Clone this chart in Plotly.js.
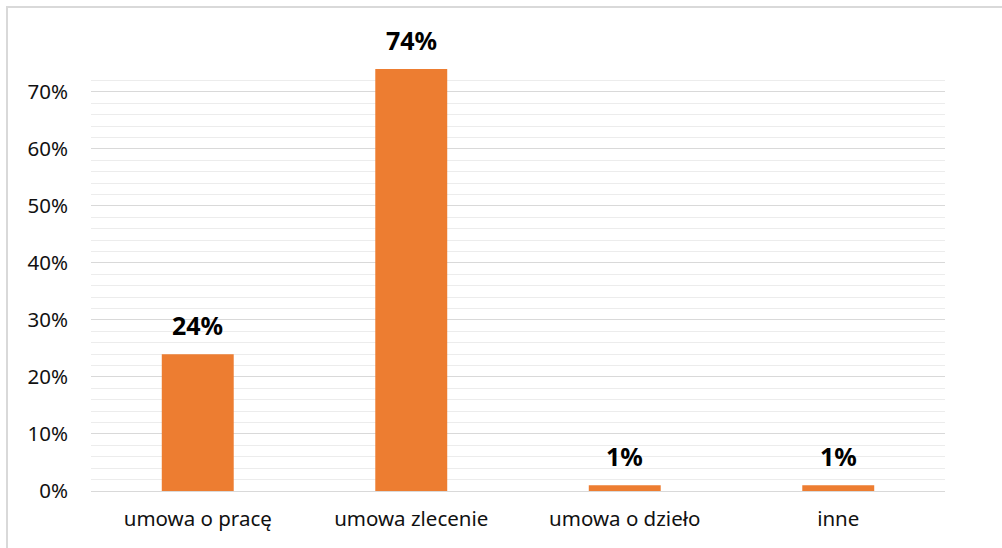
<!DOCTYPE html>
<html>
<head>
<meta charset="utf-8">
<script src="https://cdn.plot.ly/plotly-3.0.1.min.js"></script>
<style>
  html, body { margin: 0; padding: 0; background: #fff; }
  #frame { position: absolute; left: 6px; top: 6px; width: 996px; height: 542px;
           border-left: 2px solid #d9d9d9; border-top: 2px solid #d9d9d9; box-sizing: border-box; }
  #chart { position: absolute; left: 0; top: 0; width: 1002px; height: 548px; }
</style>
</head>
<body>
<div id="frame"></div>
<div id="chart"></div>
<script>
const categories = ["umowa o pracę", "umowa zlecenie", "umowa o dzieło", "inne"];
const values = [0.24, 0.74, 0.01, 0.01];
const valueLabels = ["24%", "74%", "1%", "1%"];
const yTickVals = [0, 0.1, 0.2, 0.3, 0.4, 0.5, 0.6, 0.7];
const yTickText = ["0%", "10%", "20%", "30%", "40%", "50%", "60%", "70%"];

const trace = {
  type: "bar",
  x: categories,
  y: values,
  marker: { color: "#ED7D31" },
  width: 0.337,
  hoverinfo: "none"
};

const annotations = categories.map((c, i) => ({
  x: c, y: values[i], xref: "x", yref: "y",
  text: "<b>" + valueLabels[i] + "</b>",
  showarrow: false, yanchor: "bottom", yshift: 10,
  font: { family: "Noto Sans, DejaVu Sans, sans-serif", size: 25, color: "#000" }
}));

const layout = {
  width: 1002, height: 548,
  margin: { l: 91, r: 57, t: 69, b: 57 },
  paper_bgcolor: "rgba(0,0,0,0)",
  plot_bgcolor: "rgba(0,0,0,0)",
  showlegend: false,
  font: { family: "Noto Sans, DejaVu Sans, sans-serif", size: 20.5, color: "#000" },
  xaxis: {
    showgrid: false, zeroline: false, showline: false, ticks: "",
    ticklabelstandoff: 13,
    tickfont: { size: 20.5, color: "#111" }
  },
  yaxis: {
    range: [0, 0.74],
    tickvals: yTickVals, ticktext: yTickText,
    showgrid: true, gridcolor: "#d9d9d9", gridwidth: 1,
    zeroline: true, zerolinecolor: "#d9d9d9", zerolinewidth: 1,
    showline: false, ticks: "",
    ticklabelstandoff: 22,
    tickfont: { size: 20.5, color: "#111" },
    minor: { dtick: 0.02, tick0: 0, showgrid: true, gridcolor: "#ececec", gridwidth: 1, ticks: "" }
  },
  annotations: annotations
};

Plotly.newPlot("chart", [trace], layout, { staticPlot: true, displayModeBar: false });
</script>
</body>
</html>
